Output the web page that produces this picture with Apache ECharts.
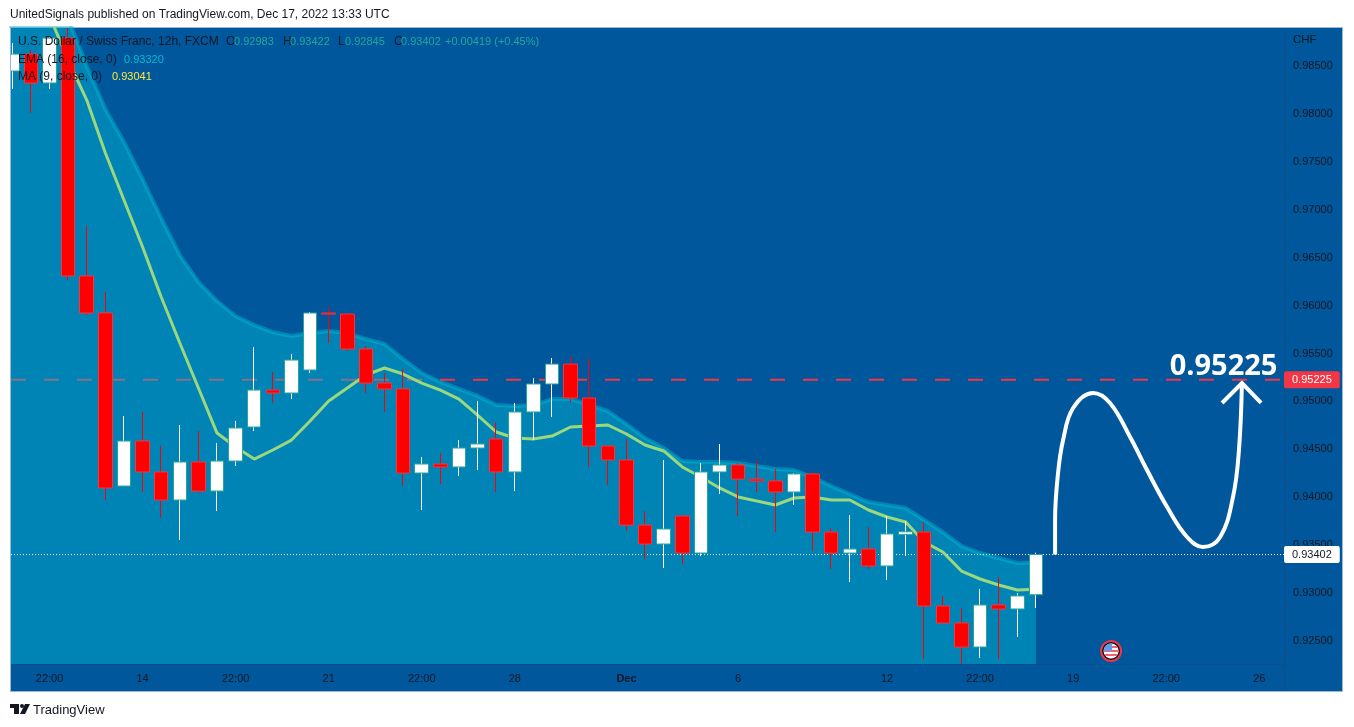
<!DOCTYPE html>
<html>
<head>
<meta charset="utf-8">
<title>USDCHF 12h</title>
<script src="https://cdn.jsdelivr.net/npm/echarts@6/dist/echarts.min.js"></script>
<style>
  html, body { margin: 0; padding: 0; background: #fff; }
  #chart { width: 1354px; height: 727px; }
</style>
</head>
<body>
<div id="chart"></div>
<script>
// candles, oldest first
var opens = [0.98448, 0.98625, 0.98323, 0.98792, 0.96309, 0.95923, 0.94117, 0.94587, 0.94264, 0.93971,
  0.94368, 0.94065, 0.94378, 0.94733, 0.95119, 0.95088, 0.95328, 0.95923, 0.95912, 0.95547,
  0.95192, 0.95130, 0.94253, 0.94347, 0.94316, 0.94514, 0.94608, 0.94264, 0.94890, 0.95182,
  0.95390, 0.95036, 0.94535, 0.94389, 0.93710, 0.93512, 0.93804, 0.93418, 0.94264, 0.94337,
  0.94190, 0.94170, 0.94055, 0.94243, 0.93637, 0.93418, 0.93460, 0.93283, 0.93610, 0.93637,
  0.92865, 0.92688, 0.92437, 0.92876, 0.92834, 0.92983];
var closes = [0.98625, 0.98323, 0.98792, 0.96309, 0.95923, 0.94097, 0.94587, 0.94264, 0.93971, 0.94368,
  0.94065, 0.94378, 0.94723, 0.95119, 0.95088, 0.95432, 0.95923, 0.95912, 0.95547, 0.95192,
  0.95130, 0.94253, 0.94347, 0.94316, 0.94514, 0.94556, 0.94264, 0.94890, 0.95182, 0.95390,
  0.95036, 0.94535, 0.94389, 0.93710, 0.93512, 0.93669, 0.93418, 0.94264, 0.94337, 0.94190,
  0.94170, 0.94055, 0.94243, 0.93637, 0.93418, 0.93460, 0.93283, 0.93617, 0.93640, 0.92865,
  0.92688, 0.92437, 0.92876, 0.92834, 0.92970, 0.93402];
var lows = [0.98260, 0.98010, 0.98260, 0.96267, 0.95902, 0.93971, 0.94117, 0.94055, 0.93784, 0.93554,
  0.94044, 0.93857, 0.94326, 0.94691, 0.94984, 0.95025, 0.95297, 0.95610, 0.95526, 0.95088,
  0.94890, 0.94117, 0.93867, 0.94138, 0.94222, 0.94284, 0.94055, 0.94065, 0.94597, 0.94837,
  0.94994, 0.94316, 0.94128, 0.93648, 0.93356, 0.93262, 0.93303, 0.93387, 0.94034, 0.93804,
  0.94055, 0.93637, 0.93919, 0.93439, 0.93251, 0.93116, 0.93251, 0.93137, 0.93387, 0.92312,
  0.92688, 0.92260, 0.92323, 0.92312, 0.92542, 0.92845];
var highs = [0.98740, 0.98667, 0.98813, 0.98897, 0.96831, 0.96142, 0.94848, 0.94890, 0.94535, 0.94754,
  0.94691, 0.94566, 0.94796, 0.95568, 0.95307, 0.95495, 0.95933, 0.95985, 0.95912, 0.95578,
  0.95297, 0.95338, 0.94420, 0.94462, 0.94597, 0.95004, 0.94785, 0.94984, 0.95244, 0.95453,
  0.95474, 0.95453, 0.94545, 0.94608, 0.93857, 0.94389, 0.93815, 0.94357, 0.94556, 0.94357,
  0.94378, 0.94295, 0.94253, 0.94264, 0.93679, 0.93815, 0.93690, 0.93804, 0.93752, 0.93742,
  0.92970, 0.92844, 0.93043, 0.93168, 0.93001, 0.93422];

// MA(9) starts at candle 2, EMA(16) one step before the first visible candle
var maStart = 2;
var maValues = [0.99022, 0.98563, 0.98145, 0.97592, 0.97102, 0.96611, 0.96090, 0.95610, 0.95140, 0.94670,
  0.94524, 0.94399, 0.94493, 0.94597, 0.94796, 0.95004, 0.95140, 0.95276, 0.95349, 0.95286,
  0.95192, 0.95119, 0.95025, 0.94858, 0.94681, 0.94618, 0.94608, 0.94639, 0.94733, 0.94744,
  0.94754, 0.94660, 0.94545, 0.94483, 0.94316, 0.94211, 0.94097, 0.94003, 0.93961, 0.93919,
  0.93992, 0.94003, 0.93971, 0.93971, 0.93867, 0.93794, 0.93742, 0.93533, 0.93429, 0.93230,
  0.93147, 0.93084, 0.93032, 0.93041];
var emaStart = -1;
var emaValues = [1.00300, 1.00100, 0.99850, 0.99490, 0.99001, 0.98500, 0.98051, 0.97707, 0.97321, 0.96914,
  0.96528, 0.96246, 0.96048, 0.95891, 0.95797, 0.95724, 0.95683, 0.95714, 0.95735, 0.95714,
  0.95651, 0.95599, 0.95443, 0.95297, 0.95203, 0.95130, 0.95057, 0.94963, 0.94952, 0.94963,
  0.95025, 0.95025, 0.94963, 0.94900, 0.94764, 0.94618, 0.94514, 0.94378, 0.94368, 0.94368,
  0.94357, 0.94326, 0.94295, 0.94284, 0.94211, 0.94117, 0.94034, 0.93950, 0.93919, 0.93888,
  0.93763, 0.93637, 0.93491, 0.93418, 0.93366, 0.93314, 0.93320];

var targetPrice = 0.95225;
var lastPrice = 0.93402;

// hand drawn projection: [candle position, price]
var sketchPoints = [[56.03, 0.93402], [56.03, 0.93763], [56.19, 0.94253], [56.46, 0.94597], [57.0, 0.94931],
  [58.07, 0.95088], [58.98, 0.94984], [60.06, 0.94629], [60.97, 0.94284], [62.05, 0.93898],
  [63.12, 0.93585], [63.98, 0.93481], [64.9, 0.93585], [65.59, 0.94003], [65.91, 0.94493], [66.07, 0.95192]];
var arrowPoints = [[65.0, 0.94984], [66.07, 0.95192], [67.1, 0.94984]];
var targetTextPoint = [65.08, 0.95360];
var flagPoint = [59.04, 0.92396];

var priceTicks = [0.925, 0.93, 0.935, 0.94, 0.945, 0.95, 0.955, 0.96, 0.965, 0.97, 0.975, 0.98, 0.985];
var timeTicks = [2, 7, 12, 17, 22, 27, 33, 39, 47, 52, 57, 62, 67];
var timeLabels = ['22:00', '14', '22:00', '21', '22:00', '28', 'Dec', '6', '12', '22:00', '19', '22:00', '26'];

var xMin = -0.07, xMax = 68.33;
var yMin = 0.92260, yMax = 0.98897;

var font = '"Liberation Sans", Arial, sans-serif';
var textDark = '#131722';

function toPairs(values, start) {
  return values.map(function (v, i) { return [i + start, v]; });
}

function plainTitle(text, left, top, size) {
  return { text: text, left: left, top: top, padding: 0,
    textStyle: { fontFamily: font, fontSize: size, fontWeight: 'normal', color: textDark } };
}

// legend row, each piece gets a fixed width so the columns line up
function legendRow(text, top, rich) {
  return { text: text, left: 18, top: top, padding: 0,
    textStyle: { fontFamily: font, fontSize: 12, fontWeight: 'normal', color: textDark, rich: rich } };
}

var wickData = opens.map(function (o, i) { return [i, o, closes[i], lows[i], highs[i]]; });
var bodyData = opens.map(function (o, i) {
  return [i, o, closes[i], Math.min(o, closes[i]), Math.max(o, closes[i])];
});

var flagSvg = '<svg xmlns="http://www.w3.org/2000/svg" width="22" height="22" viewBox="0 0 22 22">' +
  '<circle cx="11" cy="11" r="10" fill="#131722" stroke="#f23645" stroke-width="2"/>' +
  '<clipPath id="c"><circle cx="11" cy="11" r="7.5"/></clipPath><g clip-path="url(#c)">' +
  '<rect width="22" height="22" fill="#fff"/>' +
  '<rect y="6" width="22" height="2" fill="#f2606a"/><rect y="10" width="22" height="2" fill="#f2606a"/>' +
  '<rect y="14" width="22" height="2" fill="#f2606a"/><rect y="18" width="22" height="2" fill="#f2606a"/>' +
  '<rect x="3" y="3" width="9" height="8" fill="#5b9cf0"/></g></svg>';

var option = {
  backgroundColor: '#fff',
  animation: false,
  title: [
    plainTitle('UnitedSignals published on TradingView.com, Dec 17, 2022 13:33 UTC', 10, 9, 12),
    plainTitle('TradingView', 33, 704, 13),
    legendRow('{n|U.S. Dollar / Swiss Franc, 12h, FXCM}{o|O}{v1|0.92983}{h|H}{v2|0.93422}{l|L}{v1|0.92845}{h|C}{v3|0.93402}{p|+0.00419 (+0.45%)}', 36, {
      n: { fontFamily: font, fontSize: 12, color: textDark, width: 208 },
      o: { fontFamily: font, fontSize: 12, color: textDark, width: 8 },
      h: { fontFamily: font, fontSize: 12, color: textDark, width: 7 },
      l: { fontFamily: font, fontSize: 12, color: textDark, width: 7 },
      v1: { fontFamily: font, fontSize: 11, color: '#26a69a', width: 49 },
      v2: { fontFamily: font, fontSize: 11, color: '#26a69a', width: 48 },
      v3: { fontFamily: font, fontSize: 11, color: '#26a69a', width: 44 },
      p: { fontFamily: font, fontSize: 11, color: '#26a69a' }
    }),
    legendRow('{n|EMA (16, close, 0)}{v|0.93320}', 54, {
      n: { fontFamily: font, fontSize: 12, color: textDark, width: 106 },
      v: { fontFamily: font, fontSize: 11, color: '#00bcd4' }
    }),
    legendRow('{n|MA (9, close, 0)}{v|0.93041}', 71, {
      n: { fontFamily: font, fontSize: 12, color: textDark, width: 94 },
      v: { fontFamily: font, fontSize: 11, color: '#ffeb3b' }
    }),
    plainTitle('CHF', 1293, 34, 11.5)
  ],
  graphic: [
    { type: 'rect', z: -10, shape: { x: 10.5, y: 27.5, width: 1332, height: 664 },
      style: { fill: '#01579b', stroke: '#9db8d6', lineWidth: 1 } },
    { type: 'line', z: 0, shape: { x1: 1284.5, y1: 28, x2: 1284.5, y2: 691 }, style: { stroke: '#0a4f8c', lineWidth: 1 } },
    // candlestick series is not clipped, the first candle has to be cut at the pane edge
    { type: 'rect', z: 20, shape: { x: 0, y: 28, width: 10, height: 664 }, style: { fill: '#fff' } },
    { type: 'line', z: 20, shape: { x1: 10.5, y1: 27.5, x2: 10.5, y2: 691.5 }, style: { stroke: '#9db8d6', lineWidth: 1 } },
    // TradingView logo
    { type: 'polygon', shape: { points: [[10, 704], [19, 704], [19, 714], [14, 714], [14, 708], [10, 708]] }, style: { fill: '#131722' } },
    { type: 'circle', shape: { cx: 22, cy: 706, r: 2 }, style: { fill: '#131722' } },
    { type: 'polygon', shape: { points: [[25, 704], [30, 704], [25, 714], [20, 714]] }, style: { fill: '#131722' } }
  ],
  grid: { left: 11, top: 28, width: 1273, height: 636 },
  xAxis: {
    type: 'value',
    min: xMin,
    max: xMax,
    splitLine: { show: false },
    axisTick: { show: false },
    axisLine: { show: true, onZero: false, lineStyle: { color: '#0a4f8c', width: 1 } },
    axisLabel: {
      customValues: timeTicks,
      margin: 9,
      fontFamily: font,
      fontSize: 11,
      color: textDark,
      formatter: function (v) {
        var s = timeLabels[timeTicks.indexOf(v)];
        return s === 'Dec' ? '{b|Dec}' : s;
      },
      rich: { b: { fontFamily: font, fontSize: 11, fontWeight: 'bold', color: textDark } }
    }
  },
  yAxis: {
    type: 'value',
    position: 'right',
    min: yMin,
    max: yMax,
    splitLine: { show: false },
    axisTick: { show: false },
    axisLine: { show: false },
    axisLabel: {
      customValues: priceTicks,
      margin: 9,
      padding: [2, 0, 0, 0],
      fontFamily: font,
      fontSize: 11,
      color: textDark,
      formatter: function (v) { return v.toFixed(5); }
    }
  },
  series: [
    {
      name: 'Target', type: 'line', z: 1, symbol: 'none', silent: true,
      data: [[xMin, targetPrice], [xMax, targetPrice]],
      lineStyle: { color: '#f23645', width: 2, type: [15, 18] },
      endLabel: {
        show: true, distance: 0, formatter: function () { return targetPrice.toFixed(5); },
        align: 'left', padding: [3, 8, 3, 8],
        backgroundColor: '#f23645', borderRadius: 2, color: '#fff', fontFamily: font, fontSize: 11
      }
    },
    {
      name: 'EMA', type: 'line', z: 2, symbol: 'none', silent: true,
      data: toPairs(emaValues, emaStart),
      lineStyle: { color: 'rgba(0,188,212,0.45)', width: 4 },
      areaStyle: { color: 'rgba(0,188,212,0.45)', origin: 'start', opacity: 1 }
    },
    {
      name: 'Last', type: 'line', z: 3, symbol: 'none', silent: true,
      data: [[xMin, lastPrice], [xMax, lastPrice]],
      lineStyle: { color: '#fff', width: 1, type: [1, 2] },
      endLabel: {
        show: true, distance: 0, formatter: function () { return lastPrice.toFixed(5); },
        align: 'left', padding: [3, 8, 3, 8],
        backgroundColor: '#fff', borderRadius: 2, color: textDark, fontFamily: font, fontSize: 11
      }
    },
    {
      name: 'MA', type: 'line', z: 3, symbol: 'none', silent: true,
      data: toPairs(maValues, maStart),
      lineStyle: { color: '#9bd77c', width: 3 }
    },
    {
      // wicks only, the body is covered by the next series
      name: 'Wicks', type: 'candlestick', z: 4, barWidth: 1, silent: true,
      data: wickData,
      encode: { x: 0, y: [1, 2, 3, 4] },
      itemStyle: { color: '#fff', color0: '#ff0000', borderColor: '#fff', borderColor0: '#ff0000', borderWidth: 1 }
    },
    {
      name: 'Bodies', type: 'candlestick', z: 5, barWidth: 14, silent: true,
      data: bodyData,
      encode: { x: 0, y: [1, 2, 3, 4] },
      itemStyle: { color: '#fff', color0: '#ff0000', borderColor: '#26a69a', borderColor0: '#f23645', borderWidth: 1 }
    },
    {
      name: 'Sketch', type: 'line', z: 6, symbol: 'none', smooth: 0.4, silent: true,
      data: sketchPoints,
      lineStyle: { color: '#fff', width: 4 }
    },
    {
      name: 'Arrow', type: 'line', z: 6, symbol: 'none', silent: true,
      data: arrowPoints,
      lineStyle: { color: '#fff', width: 4, cap: 'butt', join: 'miter' }
    },
    {
      name: 'Target text', type: 'scatter', z: 7, symbolSize: 0, silent: true,
      data: [targetTextPoint],
      itemStyle: { opacity: 1 },
      label: {
        show: true, position: 'inside', formatter: function () { return targetPrice.toFixed(5); },
        fontFamily: '"Open Sans", sans-serif', fontWeight: 'bold', fontSize: 29, color: '#fff'
      }
    },
    {
      name: 'Event', type: 'scatter', z: 7, symbolSize: 22, silent: true,
      itemStyle: { opacity: 1 },
      symbol: 'image://data:image/svg+xml;charset=utf-8,' + encodeURIComponent(flagSvg),
      data: [flagPoint]
    }
  ]
};

var chart = echarts.init(document.getElementById('chart'));
chart.setOption(option);
</script>
</body>
</html>
